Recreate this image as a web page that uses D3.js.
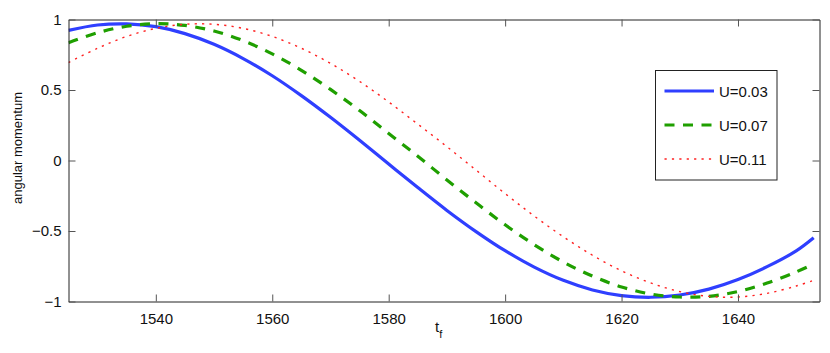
<!DOCTYPE html>
<html><head><meta charset="utf-8">
<script src="https://cdn.jsdelivr.net/npm/d3@7"></script>
<style>
body{margin:0;background:#fff;}
svg{display:block;font-family:"Liberation Sans",Arial,Helvetica,sans-serif;}
</style></head>
<body><svg id="c" width="830" height="353"></svg>
<script>
const tValues = [1525,1530,1535,1540,1545,1550,1555,1560,1565,1570,1575,1580,1585,1590,1595,1600,1605,1610,1615,1620,1625,1630,1635,1640,1645,1650,1653];
const seriesNames = ["U=0.03","U=0.07","U=0.11"];
const u003 = [0.923,0.961,0.969,0.949,0.900,0.824,0.723,0.601,0.460,0.306,0.143,-0.025,-0.192,-0.354,-0.504,-0.640,-0.756,-0.850,-0.918,-0.958,-0.970,-0.954,-0.912,-0.844,-0.753,-0.641,-0.548];
const u007 = [0.835,0.906,0.952,0.970,0.958,0.918,0.850,0.756,0.640,0.504,0.354,0.192,0.030,-0.138,-0.300,-0.456,-0.597,-0.720,-0.820,-0.897,-0.947,-0.968,-0.963,-0.929,-0.869,-0.790,-0.735];
const u011 = [0.695,0.796,0.880,0.937,0.966,0.966,0.937,0.880,0.796,0.689,0.561,0.415,0.258,0.098,-0.068,-0.235,-0.394,-0.541,-0.672,-0.782,-0.868,-0.930,-0.964,-0.968,-0.942,-0.890,-0.850];
const xTicks = [1540,1560,1580,1600,1620,1640];
const yTicks = [-1,-0.5,0,0.5,1];

const svg = d3.select("#c");
const L=68.5, R=819.5, T=19.5, B=301.5;
const x = d3.scaleLinear().domain([1525,1654]).range([L,R]);
const y = d3.scaleLinear().domain([-1,1]).range([B,T]);
const fmtY = d => (d<0?"\u2212":"")+Math.abs(d);

svg.append("clipPath").attr("id","clip").append("rect").attr("x",L).attr("y",T).attr("width",R-L).attr("height",B-T);

const styles = [
  {color:"#2f3fff", width:3.2, dash:null},
  {color:"#1f9f00", width:3.2, dash:"10,8.5"},
  {color:"#ff2020", width:1.4, dash:"2.2,5.2"}
];
const series = [u003,u007,u011];
const line = d3.line().x(d=>x(d[0])).y(d=>y(d[1])).curve(d3.curveCatmullRom);
series.forEach((s,i)=>{
  svg.append("path").attr("clip-path","url(#clip)")
    .datum(tValues.map((t,j)=>[t,s[j]]))
    .attr("d",line).attr("fill","none")
    .attr("stroke",styles[i].color).attr("stroke-width",styles[i].width)
    .attr("stroke-dasharray",styles[i].dash);
});

// axes
function styleAxis(g){
  g.select(".domain").attr("stroke","#222").attr("stroke-width",1);
  g.selectAll(".tick line").attr("stroke","#555").attr("stroke-width",1);
  g.selectAll(".tick text").attr("fill","#111").style("font-size","15px")
   .style("font-family","'Liberation Sans',Arial,sans-serif");
}
svg.append("g").attr("transform",`translate(0,${B})`)
  .call(d3.axisBottom(x).tickValues(xTicks).tickSizeInner(-7).tickSizeOuter(0).tickPadding(12).tickFormat(d3.format("d")))
  .call(styleAxis);
svg.append("g").attr("transform",`translate(0,${T})`)
  .call(d3.axisTop(x).tickValues(xTicks).tickSizeInner(-7).tickSizeOuter(0).tickFormat(""))
  .call(styleAxis);
svg.append("g").attr("transform",`translate(${L},0)`)
  .call(d3.axisLeft(y).tickValues(yTicks).tickSizeInner(-7).tickSizeOuter(0).tickPadding(7).tickFormat(fmtY))
  .call(styleAxis);
svg.append("g").attr("transform",`translate(${R},0)`)
  .call(d3.axisRight(y).tickValues(yTicks).tickSizeInner(-7).tickSizeOuter(0).tickFormat(""))
  .call(styleAxis);

// axis labels
const xl = svg.append("text").attr("x",435).attr("y",332).attr("fill","#111").style("font-size","15px");
xl.append("tspan").text("t");
xl.append("tspan").attr("dy",6).style("font-size","11px").text("f");
svg.append("text").attr("transform","translate(21.5,148) rotate(-90)")
  .attr("text-anchor","middle").attr("fill","#111").style("font-size","13px").text("angular momentum");

// legend
const lg = svg.append("g");
lg.append("rect").attr("x",655.5).attr("y",70.5).attr("width",121.5).attr("height",109.5)
  .attr("fill","#fff").attr("stroke","#222").attr("stroke-width",1);
const rowsY = [91,125,159];
seriesNames.forEach((n,i)=>{
  lg.append("line").attr("x1",664.5).attr("x2",714).attr("y1",rowsY[i]).attr("y2",rowsY[i])
    .attr("stroke",styles[i].color).attr("stroke-width",styles[i].width).attr("stroke-dasharray",styles[i].dash);
  lg.append("text").attr("x",719).attr("y",rowsY[i]+6).attr("fill","#111").style("font-size","15px").text(n);
});
</script></body></html>
